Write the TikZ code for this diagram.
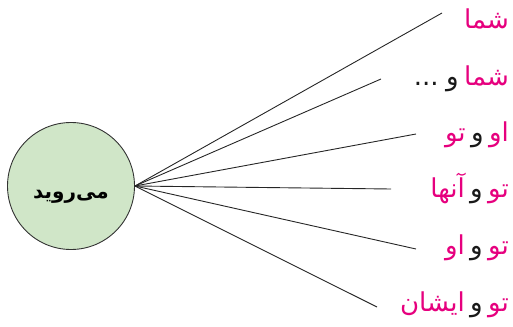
\documentclass[tikz,border=0pt]{standalone}
\usepackage{fontspec}
\TeXXeTstate=1
\newfontfamily\arabicfont[Script=Arabic]{DejaVu Sans}
\definecolor{pk}{RGB}{230,0,126}
\definecolor{cfill}{RGB}{208,230,200}
\newcommand{\rl}[1]{\beginR #1\endR}
\begin{document}
\begin{tikzpicture}[x=1pt,y=-1pt,
  wd/.style={anchor=base east,inner sep=0pt,font=\arabicfont\fontsize{26}{28}\selectfont},
  pw/.style={wd,text=pk},
  bw/.style={wd,text=black!90},
  ray/.style={line width=0.9pt,draw=black!85}]
\useasboundingbox (0,0) rectangle (513,326);
\node[circle,draw=black!80,line width=0.9pt,fill=cfill,minimum size=127pt,inner sep=0pt] (c) at (71,186) {};
\node[inner sep=0pt,font=\arabicfont\bfseries\fontsize{20}{24}\selectfont] (ct) at (71,197) {\rl{می‌روید}};
\coordinate (e1) at (442,13);
\coordinate (e2) at (381,79);
\coordinate (e3) at (416,134);
\coordinate (e4) at (391,189);
\coordinate (e5) at (416,249);
\coordinate (e6) at (377,307);
\foreach \i in {1,...,6} \draw[ray] (c.east) -- (e\i);
% line 1
\node[pw] (a1) at (509,29) {\rl{شما}};
% line 2
\node[pw] (a2) at (509,85) {\rl{شما}};
\node[bw] (b2) at ([xshift=-5pt]a2.base west) {\rl{و}};
\node[bw] (c2) at ([xshift=-7pt]b2.base west) {...};
% line 3
\node[pw] (a3) at (509,141) {\rl{او}};
\node[bw] (b3) at ([xshift=-5pt]a3.base west) {\rl{و}};
\node[pw] (c3) at ([xshift=-5pt]b3.base west) {\rl{تو}};
% line 4
\node[pw] (a4) at (509,197) {\rl{تو}};
\node[bw] (b4) at ([xshift=-5pt]a4.base west) {\rl{و}};
\node[pw] (c4) at ([xshift=-5pt]b4.base west) {\rl{آنها}};
% line 5
\node[pw] (a5) at (509,254) {\rl{تو}};
\node[bw] (b5) at ([xshift=-5pt]a5.base west) {\rl{و}};
\node[pw] (c5) at ([xshift=-5pt]b5.base west) {\rl{او}};
% line 6
\node[pw] (a6) at (509,311) {\rl{تو}};
\node[bw] (b6) at ([xshift=-5pt]a6.base west) {\rl{و}};
\node[pw] (c6) at ([xshift=-5pt]b6.base west) {\rl{ایشان}};
\end{tikzpicture}
\end{document}
